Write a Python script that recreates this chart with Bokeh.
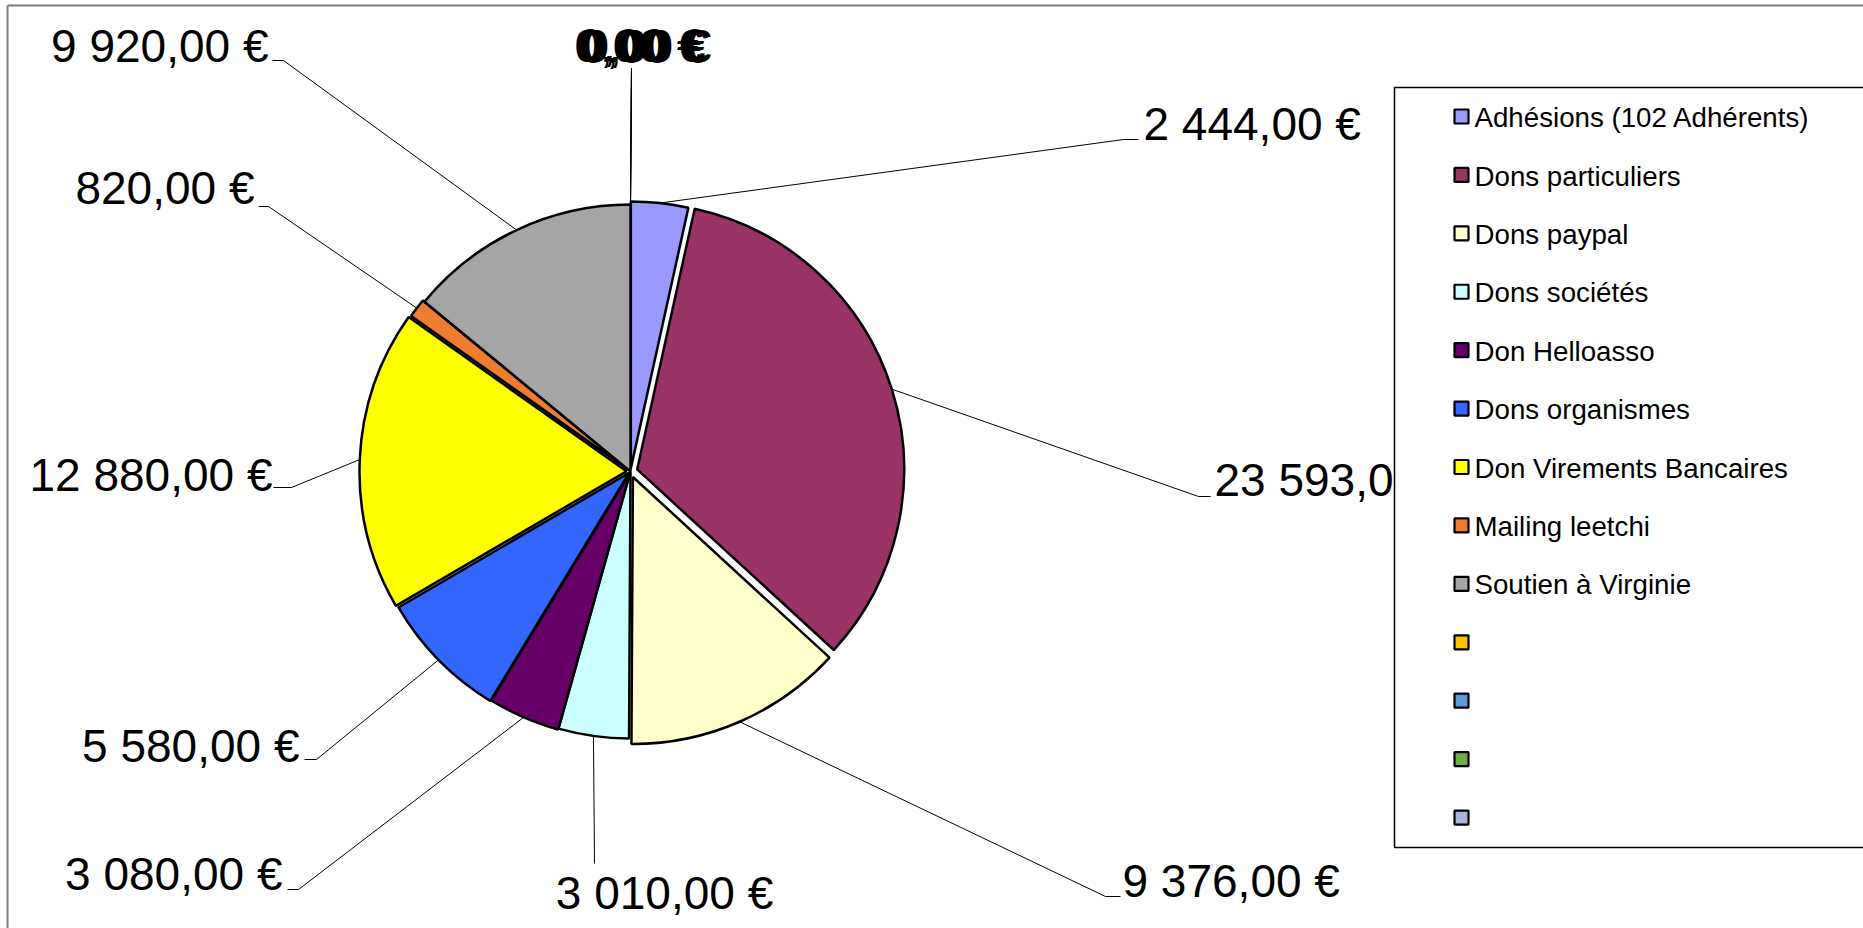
import math
from bokeh.plotting import figure
from bokeh.models import Range1d, ColumnDataSource
from bokeh.core.properties import value
from bokeh.embed import file_html
from bokeh.resources import INLINE

# ---------------- data ----------------
categories = ["Adhésions (102 Adhérents)", "Dons particuliers", "Dons paypal",
              "Dons sociétés", "Don Helloasso", "Dons organismes",
              "Don Virements Bancaires", "Mailing leetchi", "Soutien à Virginie",
              "", "", "", ""]
amounts = [2444, 23593, 9376, 3010, 3080, 5580, 12880, 820, 9920, 0, 0, 0, 0]
colors = ["#9999FF", "#993366", "#FFFFCC", "#CCFFFF", "#660066", "#3366FF",
          "#FFFF00", "#ED7D31", "#A5A5A5", "#FFC000", "#5B9BD5", "#70AD47", "#A9B5DB"]

# ---------------- layout (pixels, y measured downward) ----------------
W, H = 1863, 928
CX, CY, R = 630, 471, 267
explode = [3, 7, 6, 0, 1, 2, 4, 2, 0, 0, 0, 0, 0]
# bend point, end of horizontal tail, text anchor, alignment
label_layout = [
    (1123, 139, 1138, 1143, 138, "left"),
    (1198, 496, 1210, 1214, 494, "left"),
    (1105, 896, 1120, 1122, 895, "left"),
    (594, 863, 594, 664, 907, "center"),
    (298, 889, 287, 282, 888, "right"),
    (316, 759, 304, 299, 760, "right"),
    (291, 487, 273, 272, 489, "right"),
    (268, 206, 258, 254, 202, "right"),
    (283, 60, 272, 268, 60, "right"),
    (631, 68, 631, 574, 60, "left"),
    (631, 68, 631, 577, 59, "left"),
    (631, 68, 631, 580, 61, "left"),
    (631, 68, 631, 583, 60, "left"),
]
LEG_L, LEG_T, LEG_B, LEG_R = 1394, 87, 847, 1880
LEG_Y0, LEG_DY = 116, 58.42
LABEL_PX = 46
LEGEND_PX = 27.7
BASE_FIX = 0.32   # SVG baseline correction, in em
FONT = "Liberation Sans"


def Y(py):
    return H - py


def fmt(v):
    s = f"{v:,.2f}".replace(",", " ").replace(".", ",")
    return s + " €"


p = figure(width=W, height=H, x_range=Range1d(0, W), y_range=Range1d(0, H),
           output_backend="svg", toolbar_location=None, min_border=0,
           x_axis_type=None, y_axis_type=None)
p.grid.visible = False
p.outline_line_color = None
p.background_fill_color = "white"
p.border_fill_color = "white"

# outer frame
p.segment(x0=[7, 7], y0=[Y(5), Y(5)], x1=[W + 5, 7], y1=[Y(5), -5],
          line_color="#7f7f7f", line_width=2)

# slices
total = sum(amounts)
wx, wy, ws, we, wc, mids = [], [], [], [], [], []
cum = 0.0
for i, v in enumerate(amounts):
    a0 = cum / total * 2 * math.pi
    cum += v
    a1 = cum / total * 2 * math.pi
    mid = (a0 + a1) / 2
    mids.append(mid)
    if v <= 0:
        continue
    dx = explode[i] * math.sin(mid)
    dy = explode[i] * math.cos(mid)
    wx.append(CX + dx)
    wy.append(Y(CY) + dy)
    ws.append(math.pi / 2 - a0)
    we.append(math.pi / 2 - a1)
    wc.append(colors[i])

src = ColumnDataSource(dict(x=wx, y=wy, s=ws, e=we, c=wc))
p.wedge(x="x", y="y", radius=R, start_angle="s", end_angle="e", direction="clock",
        fill_color="c", line_color="black", line_width=2.5, source=src)

# leader lines and labels
xs, ys = [], []
groups = {"left": ([], [], []), "right": ([], [], []), "center": ([], [], [])}
for i, v in enumerate(amounts):
    mid = mids[i] if v > 0 else 0.0
    ex = CX + (R + explode[i]) * math.sin(mid)
    ey = Y(CY) + (R + explode[i]) * math.cos(mid)
    bx, by, tx, lx, ly, al = label_layout[i]
    xs.append([ex, bx, tx])
    ys.append([ey, Y(by), Y(by)])
    g = groups[al]
    g[0].append(lx)
    g[1].append(Y(ly) + BASE_FIX * LABEL_PX)
    g[2].append(fmt(v))

p.multi_line(xs=xs, ys=ys, line_color="black", line_width=1)
for al, (gx, gy, gt) in groups.items():
    if gx:
        p.text(x=gx, y=gy, text=gt, text_align=al, text_baseline="alphabetic",
               text_font=value(FONT), text_font_size=value(f"{LABEL_PX}px"),
               text_color="black")

# legend box
p.quad(left=[LEG_L], right=[LEG_R], top=[Y(LEG_T)], bottom=[Y(LEG_B)],
       fill_color="white", line_color="black", line_width=1.5)
ly_rows = [Y(LEG_Y0 + LEG_DY * i) for i in range(len(categories))]
p.rect(x=[1461] * len(categories), y=ly_rows, width=14, height=14,
       fill_color=colors, line_color="black", line_width=2.2)
p.text(x=[1474] * len(categories),
       y=[y - 10 + BASE_FIX * LEGEND_PX for y in ly_rows], text=categories,
       text_align="left", text_baseline="alphabetic",
       text_font=value(FONT), text_font_size=value(f"{LEGEND_PX}px"), text_color="black")

open("out.html", "w").write(file_html(p, INLINE))
